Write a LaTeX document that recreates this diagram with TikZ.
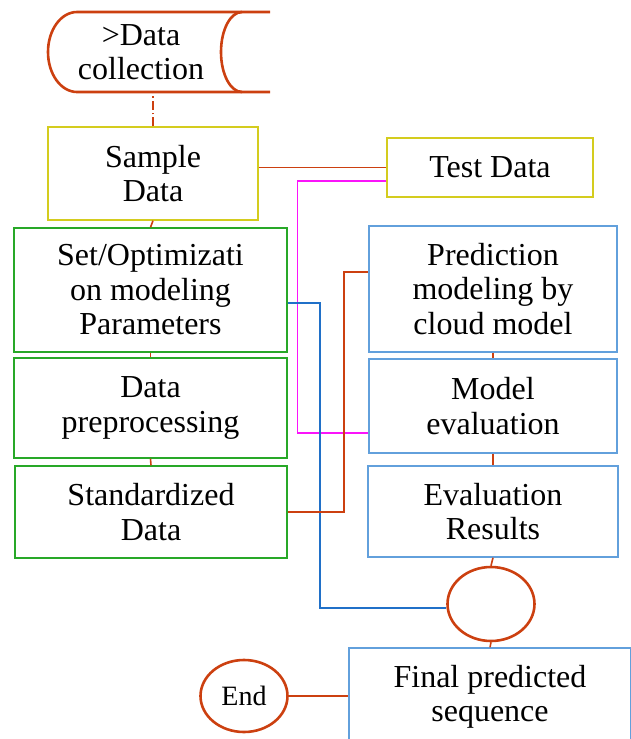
\documentclass[tikz,border=0pt]{standalone}
\usepackage{fontspec}
\setmainfont{Liberation Serif}
\newfontfamily\tnr{Liberation Serif}
\usetikzlibrary{shapes.geometric, positioning, calc}
\definecolor{tyellow}{RGB}{212, 204, 30}
\definecolor{tgreen}{RGB}{40, 168, 40}
\definecolor{tblue}{RGB}{98, 160, 220}
\definecolor{torange}{RGB}{204, 64, 16}
\definecolor{tlink}{RGB}{32, 112, 200}
\definecolor{tmag}{RGB}{250, 20, 250}
\newcommand\boxfont{\tnr\fontsize{32}{34.5}\selectfont}
\tikzset{
    box/.style={rectangle, draw, line width=1.4pt, align=center, font=\boxfont, inner sep=2pt},
    yelbox/.style={box, draw=tyellow},
    grnbox/.style={box, draw=tgreen},
    blubox/.style={box, draw=tblue},
    term/.style={ellipse, draw=torange, line width=2.6pt, inner sep=0pt, align=center, font=\tnr\fontsize{28}{30}\selectfont},
    link/.style={draw=torange, line width=1.6pt},
    dashlink/.style={link, dash pattern=on 9pt off 3pt on 1.5pt off 3pt},
    maglink/.style={draw=tmag, line width=1.6pt},
    bluelink/.style={draw=tlink, line width=1.6pt}
}
\begin{document}
\begin{tikzpicture}[x=1pt, y=-1pt]
    \useasboundingbox (0,0) rectangle (631,739);
    \clip (0,0) rectangle (631,739);
    % data collection (stored data shape)
    \draw[torange, line width=2.6pt] (270,12) -- (77,12) arc[start angle=270, end angle=90, x radius=29, y radius=40] -- (270,92);
    \draw[torange, line width=2.6pt] (242,12) arc[start angle=270, end angle=90, x radius=21, y radius=40];
    \node[align=center, font=\tnr\fontsize{32}{34}\selectfont, minimum height=80pt, inner sep=0pt] (collect) at (141,52) {>Data\\collection};
    % left column
    \node[yelbox, minimum width=210pt, minimum height=93pt] (sample) at (153,173.5) {Sample\\Data};
    \node[grnbox, minimum width=273pt, minimum height=124pt] (setopt) at (150.5,290) {Set/Optimizati\\on modeling\\Parameters};
    \node[grnbox, minimum width=273pt, minimum height=100pt] (prep) at (150.5,408) {Data\\preprocessing};
    \node[grnbox, minimum width=272pt, minimum height=92pt] (stand) at (151,512) {Standardized\\Data};
    % right column
    \node[yelbox, minimum width=206pt, minimum height=59pt] (test) at (490,167.5) {Test Data};
    \node[blubox, minimum width=248pt, minimum height=126pt] (pred) at (493,289) {Prediction\\modeling by\\cloud model};
    \node[blubox, minimum width=248pt, minimum height=94pt] (meval) at (493,406) {Model\\evaluation};
    \node[blubox, minimum width=250pt, minimum height=91pt] (eres) at (493,511.5) {Evaluation\\Results};
    \node[term, minimum width=87pt, minimum height=74pt] (junc) at (491,604) {};
    \node[blubox, minimum width=282pt, minimum height=98pt] (final) at (490,697) {Final predicted\\sequence};
    \node[term, minimum width=87pt, minimum height=72pt] (endc) at (244,696) {End};
    % connectors
    \draw[dashlink] (sample.north) -- (sample.north |- collect.south);
    \draw[link] (sample.south) -- (setopt.north);
    \draw[link] (setopt.south) -- (prep.north);
    \draw[link] (prep.south) -- (stand.north);
    \draw[link] (sample.east |- test.west) -- (test.west);
    \draw[maglink] ([yshift=-13.5pt]test.west) -- ++(-89,0) |- ([yshift=-27pt]meval.west);
    \draw[bluelink] ([yshift=-13pt]setopt.east) -- ++(32,0) |- ([yshift=-4pt]junc.west);
    \draw[link] (stand.east) -- ++(56,0) |- ([yshift=17pt]pred.west);
    \draw[link] (pred.south) -- (meval.north);
    \draw[link] (meval.south) -- (eres.north);
    \draw[link] (eres.south) -- (junc.north);
    \draw[link] (junc.south) -- (final.north);
    \draw[link] (endc.east) -- (endc.east -| final.west);
\end{tikzpicture}
\end{document}
